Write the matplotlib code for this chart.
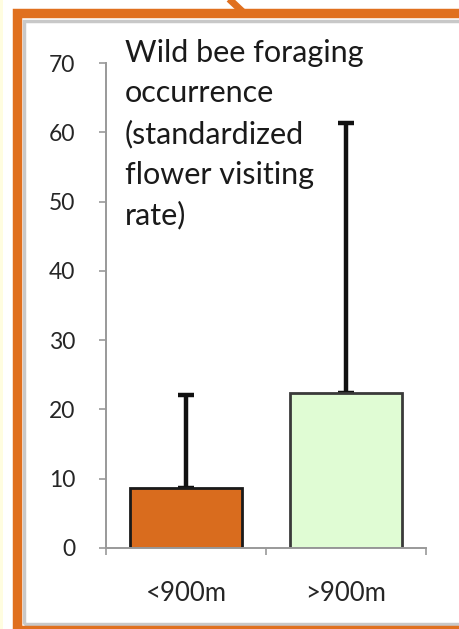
import numpy as np
import matplotlib as mpl
import matplotlib.pyplot as plt
from matplotlib.patches import Rectangle
from matplotlib.lines import Line2D

#Datos
categorias = ['<900m', '>900m']
medias = [8.7, 22.3]
error_sup = [13.4, 39.0]
colores = ['#D96C1E', '#E0FCD4']
bordes = ['#1a1a1a', '#3a3a3a']
yticks = [0, 10, 20, 30, 40, 50, 60, 70]
titulo = 'Wild bee foraging\noccurrence\n(standardized\nflower visiting\nrate)'

W, H = 460, 629
fig = plt.figure(figsize=[W/100., H/100.], dpi=100)
fig.patch.set_facecolor('white')

def px(x, y):
    return x/W, 1 - y/H

#Marco naranja
fig.patches.append(Rectangle((0, 0), 3/W, 1, transform=fig.transFigure,
                             facecolor='#FFFDE0', edgecolor='none'))
x0, y0 = px(23.5, 21)
x1, y1 = px(23.5, 623.5)
fig.patches.append(Rectangle((x0, y1), 1.2, y0 - y1, transform=fig.transFigure,
                             facecolor='none', edgecolor='#c8c8c8', linewidth=2.5))
x0, y0 = px(16.5, 13)
x1, y1 = px(16.5, 629.5)
fig.patches.append(Rectangle((x0, y1), 1.2, y0 - y1, transform=fig.transFigure,
                             facecolor='none', edgecolor='#E0701F', linewidth=6.8))
xa, ya = px(228, -2)
xb, yb = px(244, 13)
fig.lines.append(Line2D([xa, xb], [ya, yb], transform=fig.transFigure,
                        color='#E0701F', linewidth=5, solid_capstyle='butt'))

ax = fig.add_axes((106/W, (H-548)/H, 320/W, 485/H))
x = np.arange(len(categorias))
yerr = [np.zeros(len(medias)), error_sup]
ax.bar(x, medias, width=0.7, color=colores, edgecolor=bordes, linewidth=2, zorder=2)
ax.errorbar(x, medias, yerr=yerr, fmt='none', ecolor='#111111', elinewidth=3.2,
            capsize=6, capthick=3.2, zorder=1)

ax.set_xlim(-0.5, 1.5)
ax.set_ylim(0, 70)
ax.set_yticks(yticks)
ax.set_xticks([-0.5, 0.5, 1.5], minor=False)
ax.set_xticklabels(['', '', ''])
ax.set_xticks(x, minor=True)
ax.set_xticklabels(categorias, minor=True)
ax.tick_params(axis='x', which='minor', length=0, pad=24, labelsize=18.5, labelcolor='#262626')
ax.tick_params(axis='x', which='major', length=5, color='#999999', width=1.2)
ax.tick_params(axis='y', length=5, color='#999999', width=1.2, pad=17,
               labelsize=16.5, labelcolor='#262626')
for lab in ax.get_xticklabels(minor=True) + ax.get_yticklabels():
    lab.set_family('Lato')

for s in ['top', 'right']:
    ax.spines[s].set_visible(False)
for s in ['left', 'bottom']:
    ax.spines[s].set_color('#999999')
    ax.spines[s].set_linewidth(1.4)

fig.text(125/W, 1 - 39/H, titulo, family='Lato', fontsize=22, color='#1a1a1a',
         va='top', ha='left', linespacing=1.53)

fig.savefig('out.png', dpi=100)
